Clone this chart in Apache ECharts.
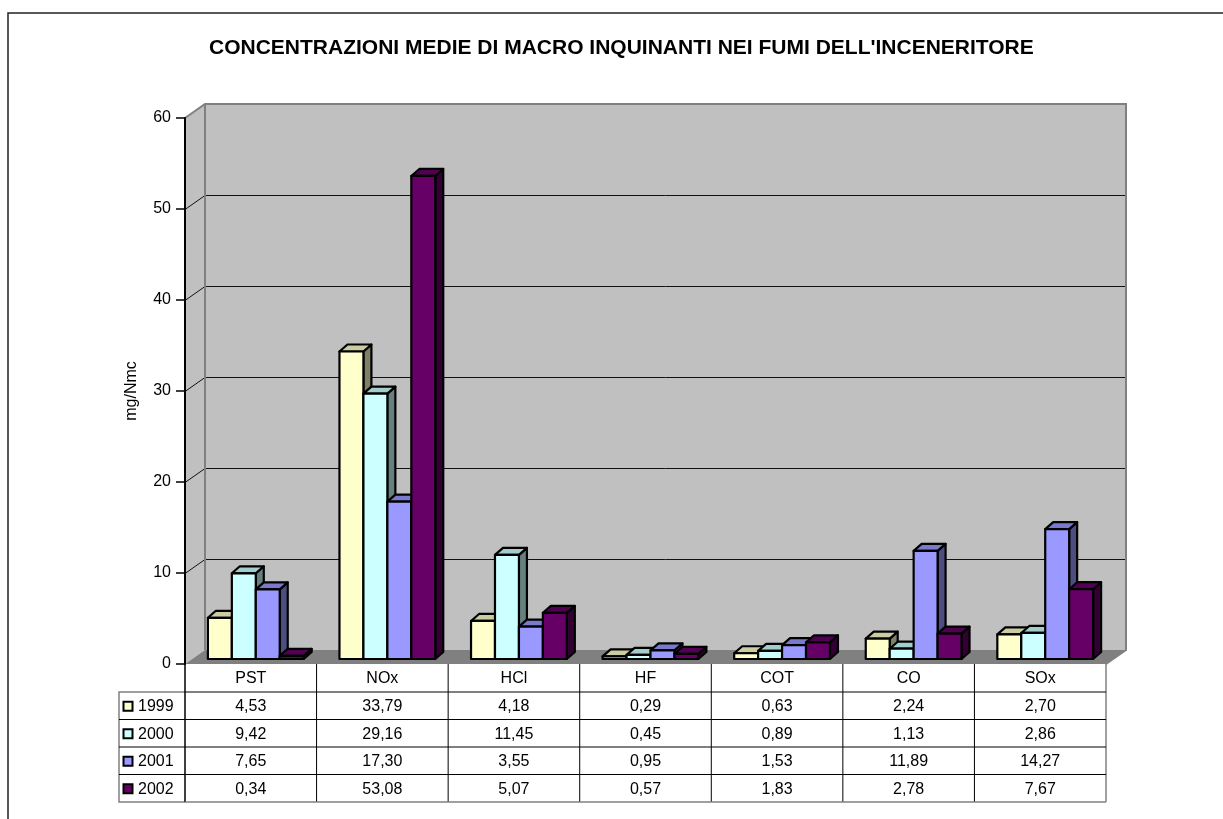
<!DOCTYPE html>
<html>
<head>
<meta charset="utf-8">
<script src="https://cdn.jsdelivr.net/npm/echarts@6/dist/echarts.min.js"></script>
<style>
  html, body { margin: 0; padding: 0; background: #fff; }
  #chart { width: 1223px; height: 819px; }
</style>
</head>
<body>
<div id="chart"></div>
<script>
const categories = ["PST", "NOx", "HCl", "HF", "COT", "CO", "SOx"];
const years = ["1999", "2000", "2001", "2002"];
const v1999 = [4.53, 33.79, 4.18, 0.29, 0.63, 2.24, 2.70];
const v2000 = [9.42, 29.16, 11.45, 0.45, 0.89, 1.13, 2.86];
const v2001 = [7.65, 17.30, 3.55, 0.95, 1.53, 11.89, 14.27];
const v2002 = [0.34, 53.08, 5.07, 0.57, 1.83, 2.78, 7.67];
const yTicks = [0, 10, 20, 30, 40, 50, 60];

const seriesValues = [v1999, v2000, v2001, v2002];
const colors = ["#FFFFCC", "#CCFFFF", "#9999FF", "#660066"];

const FONT = "Arial, 'Liberation Sans', sans-serif";
// wall depth and bar placement (3d look)
const WX = 20, WY = -14;
const FX = 5, FY = -5;
const DX = 8, DY = -7;
const HEAD = 28, ROW = 27.5;

function shade(hex, k) {
  const n = parseInt(hex.slice(1), 16);
  const r = Math.round(((n >> 16) & 255) * k);
  const g = Math.round(((n >> 8) & 255) * k);
  const b = Math.round((n & 255) * k);
  return "rgb(" + r + "," + g + "," + b + ")";
}

function fmt(v) {
  return v.toFixed(2).replace(".", ",");
}

const chart = echarts.init(document.getElementById("chart"));

function renderWalls(params, api) {
  const cs = params.coordSys;
  const x0 = cs.x, y0 = cs.y, x1 = cs.x + cs.width, y1 = cs.y + cs.height;
  const ch = [];
  // back wall
  ch.push({
    type: "polygon",
    shape: { points: [[x0 + WX, y0 + WY], [x1 + WX, y0 + WY], [x1 + WX, y1 + WY], [x0 + WX, y1 + WY]] },
    style: { fill: "#C0C0C0", stroke: null }
  });
  // side wall
  ch.push({
    type: "polygon",
    shape: { points: [[x0, y0], [x0 + WX, y0 + WY], [x0 + WX, y1 + WY], [x0, y1]] },
    style: { fill: "#C0C0C0", stroke: null }
  });
  // gridlines
  yTicks.slice(1, -1).forEach(function (v) {
    const y = Math.round(api.coord([0, v])[1]) + 0.5;
    ch.push({
      type: "polyline",
      shape: { points: [[x0, y], [x0 + WX, y + WY], [x1 + WX, y + WY]] },
      style: { stroke: "#111", lineWidth: 1, fill: null }
    });
  });
  // floor
  ch.push({
    type: "polygon",
    shape: { points: [[x0, y1], [x1, y1], [x1 + WX, y1 + WY], [x0 + WX, y1 + WY]] },
    style: { fill: "#808080", stroke: null }
  });
  // wall edges
  ch.push({
    type: "polyline",
    shape: { points: [[x0, y0], [x0 + WX, y0 + WY], [x1 + WX, y0 + WY], [x1 + WX, y1 + WY], [x1, y1]] },
    style: { stroke: "#808080", lineWidth: 2, fill: null }
  });
  ch.push({
    type: "line",
    shape: { x1: x0 + WX, y1: y0 + WY, x2: x0 + WX, y2: y1 + WY },
    style: { stroke: "#808080", lineWidth: 2 }
  });
  // legend column of the data table
  const lx = x0 - 66;
  const top = y1 + HEAD;
  const bot = top + 4 * ROW;
  ch.push({
    type: "polyline",
    shape: { points: [[x0, top], [lx, top], [lx, bot], [x0, bot]] },
    style: { stroke: "#808080", lineWidth: 1.5, fill: null }
  });
  years.forEach(function (yr, s) {
    const cy = top + s * ROW + ROW / 2;
    if (s > 0) {
      ch.push({
        type: "line",
        shape: { x1: lx, y1: top + s * ROW, x2: x0, y2: top + s * ROW },
        style: { stroke: "#000", lineWidth: 1 }
      });
    }
    ch.push({
      type: "rect",
      shape: { x: lx + 4.5, y: cy - 4, width: 9, height: 9 },
      style: { fill: colors[s], stroke: "#000", lineWidth: 2 }
    });
    ch.push({
      type: "text",
      style: { text: yr, x: lx + 19, y: cy + 1, align: "left", verticalAlign: "middle", font: "16px " + FONT, fill: "#000" }
    });
  });
  return { type: "group", children: ch };
}

function renderBar(s) {
  return function (params, api) {
    const i = api.value(0);
    const v = api.value(1);
    const base = api.coord([i, 0]);
    const topP = api.coord([i, v]);
    const catW = api.size([1, 0])[0];
    const bw = catW * 0.182;
    const x0 = base[0] - 2 * bw + s * bw + FX;
    const yb = base[1] + FY;
    const yt = topP[1] + FY;
    const c = colors[s];
    const st = { stroke: "#000", lineWidth: 2.2, lineJoin: "round" };
    return {
      type: "group",
      children: [
        {
          type: "polygon",
          shape: { points: [[x0 + bw, yb], [x0 + bw + DX, yb + DY], [x0 + bw + DX, yt + DY], [x0 + bw, yt]] },
          style: Object.assign({ fill: shade(c, 0.5) }, st)
        },
        {
          type: "polygon",
          shape: { points: [[x0, yt], [x0 + bw, yt], [x0 + bw + DX, yt + DY], [x0 + DX, yt + DY]] },
          style: Object.assign({ fill: shade(c, 0.8) }, st)
        },
        {
          type: "polygon",
          shape: { points: [[x0, yb], [x0 + bw, yb], [x0 + bw, yt], [x0, yt]] },
          style: Object.assign({ fill: c }, st)
        }
      ]
    };
  };
}

function renderTable(params, api) {
  const i = api.value(0);
  const p = api.coord([i, 0]);
  const catW = api.size([1, 0])[0];
  const cx = p[0];
  const t = p[1];
  const xl = cx - catW / 2, xr = cx + catW / 2;
  const bot = t + HEAD + 4 * ROW;
  const last = i === categories.length - 1;
  const ch = [];
  ch.push({
    type: "line",
    shape: { x1: xr, y1: t, x2: xr, y2: bot },
    style: { stroke: last ? "#808080" : "#000", lineWidth: last ? 1.5 : 1 }
  });
  if (i === 0) {
    ch.push({
      type: "line",
      shape: { x1: xl, y1: t, x2: xl, y2: bot },
      style: { stroke: "#000", lineWidth: 1.5 }
    });
  }
  for (let k = 0; k <= 4; k++) {
    const y = t + HEAD + k * ROW;
    ch.push({
      type: "line",
      shape: { x1: xl, y1: y, x2: xr, y2: y },
      style: { stroke: k === 4 ? "#808080" : "#000", lineWidth: k === 4 ? 1.5 : 1 }
    });
  }
  ch.push({
    type: "text",
    style: { text: categories[i], x: cx, y: t + HEAD / 2 + 1, align: "center", verticalAlign: "middle", font: "16px " + FONT, fill: "#000" }
  });
  seriesValues.forEach(function (vals, s) {
    ch.push({
      type: "text",
      style: { text: fmt(vals[i]), x: cx, y: t + HEAD + s * ROW + ROW / 2 + 1, align: "center", verticalAlign: "middle", font: "16px " + FONT, fill: "#000" }
    });
  });
  return { type: "group", children: ch };
}

const series = [
  {
    type: "custom",
    name: "walls",
    data: [[0, 0]],
    renderItem: renderWalls,
    silent: true,
    z: 1
  }
];
seriesValues.forEach(function (vals, s) {
  series.push({
    type: "custom",
    name: years[s],
    data: vals.map(function (v, i) { return [i, v]; }),
    renderItem: renderBar(s),
    z: 2
  });
});
series.push({
  type: "custom",
  name: "table",
  data: categories.map(function (c, i) { return [i, 0]; }),
  renderItem: renderTable,
  silent: true,
  z: 3
});

chart.setOption({
  animation: false,
  backgroundColor: "#fff",
  title: {
    text: "CONCENTRAZIONI MEDIE DI MACRO INQUINANTI NEI FUMI DELL'INCENERITORE",
    left: 209,
    top: 38,
    padding: 0,
    textStyle: { fontFamily: FONT, fontSize: 21, fontWeight: "bold", color: "#000" }
  },
  graphic: [
    {
      type: "rect",
      shape: { x: 8, y: 13, width: 1400, height: 1000 },
      style: { fill: null, stroke: "#222", lineWidth: 1.5 },
      z: -10
    }
  ],
  grid: { left: 185, right: 117, top: 118, bottom: 155 },
  xAxis: {
    type: "category",
    data: categories,
    axisLine: { show: false },
    axisTick: { show: false },
    axisLabel: { show: false },
    splitLine: { show: false }
  },
  yAxis: {
    type: "value",
    min: 0,
    max: 60,
    interval: 10,
    name: "mg/Nmc",
    nameLocation: "middle",
    nameGap: 45,
    nameTextStyle: { fontFamily: FONT, fontSize: 16, color: "#000" },
    axisLine: { show: true, lineStyle: { color: "#000", width: 2 } },
    axisTick: { show: true, length: 9, lineStyle: { color: "#000", width: 1.5 } },
    axisLabel: { fontFamily: FONT, fontSize: 16, color: "#000", margin: 14 },
    splitLine: { show: false },
    z: 10
  },
  series: series
});
</script>
</body>
</html>
